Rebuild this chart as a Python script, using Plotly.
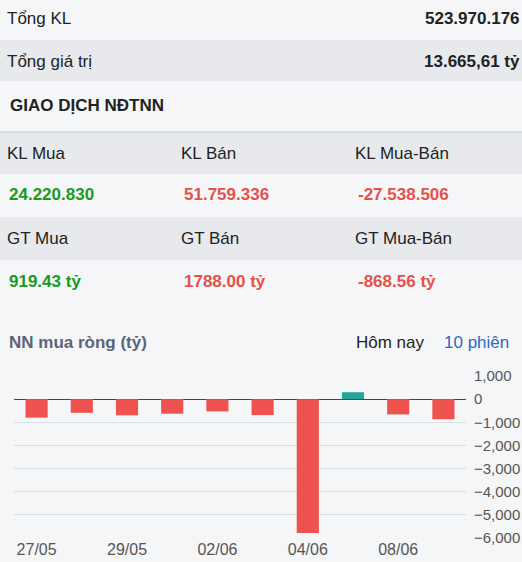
import plotly.graph_objects as go

W, H = 522, 562

# ---- data ----
dates = ["27/05", "28/05", "29/05", "01/06", "02/06", "03/06", "04/06", "05/06", "08/06", "09/06"]
net_buy = [-800, -590, -700, -630, -530, -690, -5780, 300, -660, -868.56]
tick_dates = ["27/05", "29/05", "02/06", "04/06", "08/06"]
y_ticks = [1000, 0, -1000, -2000, -3000, -4000, -5000, -6000]

summary_labels = ["Tổng KL", "Tổng giá trị"]
summary_values = ["523.970.176", "13.665,61 tỷ"]
kl_headers = ["KL Mua", "KL Bán", "KL Mua-Bán"]
kl_values = ["24.220.830", "51.759.336", "-27.538.506"]
gt_headers = ["GT Mua", "GT Bán", "GT Mua-Bán"]
gt_values = ["919.43 tỷ", "1788.00 tỷ", "-868.56 tỷ"]

BG = "#f5f6f8"
BAND = "#e7e9ed"
TXT = "#222222"
GREEN = "#1a9a1f"
RED = "#e6504c"
BAR_RED = "#ef5350"
BAR_GREEN = "#26a69a"
FONT = "Liberation Sans, Arial, sans-serif"


def px(x):
    return x / W


def py(y):
    return 1 - y / H


shapes = []
annotations = []


def band(y0, y1, color):
    shapes.append(dict(type="rect", xref="paper", yref="paper",
                       x0=0, x1=1, y0=py(y1), y1=py(y0),
                       fillcolor=color, line=dict(width=0), layer="below"))


def text(x, y, s, color=TXT, bold=False, anchor="left", size=17):
    annotations.append(dict(xref="paper", yref="paper", x=px(x), y=py(y),
                            text=f"<b>{s}</b>" if bold else s,
                            showarrow=False, xanchor=anchor, yanchor="middle",
                            borderpad=0,
                            font=dict(family=FONT, size=size, color=color)))


# bands
band(40, 81, BAND)
band(132, 174, BAND)
band(217, 260, BAND)
shapes.append(dict(type="line", xref="paper", yref="paper", x0=0, x1=1,
                   y0=py(132), y1=py(132), line=dict(color="#d6d9de", width=1.5)))

# summary
for i, (lab, val) in enumerate(zip(summary_labels, summary_values)):
    yy = 18 + i * 43
    text(6, yy, lab)
    text(521, yy, val, bold=True, anchor="right")

text(9, 105, "GIAO DỊCH NĐTNN", bold=True)

cols_h = [6, 180, 354]
cols_v = [8, 183, 357]
val_colors = [GREEN, RED, RED]
for i in range(3):
    text(cols_h[i], 153, kl_headers[i])
    text(cols_v[i], 195, kl_values[i], color=val_colors[i], bold=True)
    text(cols_h[i], 238, gt_headers[i])
    text(cols_v[i], 281, gt_values[i], color=val_colors[i], bold=True)

text(8, 342, "NN mua ròng (tỷ)", color="#5b6478", bold=True)
text(355, 342, "Hôm nay")
text(443, 342, "10 phiên", color="#2f68c0")

bar_colors = [BAR_GREEN if v >= 0 else BAR_RED for v in net_buy]

fig = go.Figure(go.Bar(x=dates, y=net_buy, marker=dict(color=bar_colors, line=dict(width=0)),
                       hoverinfo="skip"))

fig.update_layout(
    template="none",
    width=W, height=H,
    margin=dict(l=0, r=0, t=0, b=0, pad=0, autoexpand=False),
    paper_bgcolor=BG, plot_bgcolor=BG,
    showlegend=False,
    bargap=0.51,
    shapes=shapes,
    annotations=annotations,
    xaxis=dict(domain=[px(14), px(466)], type="category", automargin=False,
               tickmode="array", tickvals=tick_dates, ticktext=tick_dates,
               showgrid=False, zeroline=False, showline=False, ticks="",
               tickfont=dict(family=FONT, size=16, color="#555555")),
    yaxis=dict(domain=[py(538), py(376)], range=[-6000, 1000], side="right",
               automargin=False,
               tickmode="array", tickvals=y_ticks, tickformat=",",
               showgrid=True, gridcolor="#dcdfe3", gridwidth=1,
               zeroline=True, zerolinecolor="#444444", zerolinewidth=1,
               showline=False, ticks="", ticklabelstandoff=7,
               tickfont=dict(family=FONT, size=15, color="#555555")),
)

fig.write_html(
    "out.html",
    config={"displayModeBar": False},
    post_script="document.body.style.margin='0';document.body.style.overflow='hidden';",
)
